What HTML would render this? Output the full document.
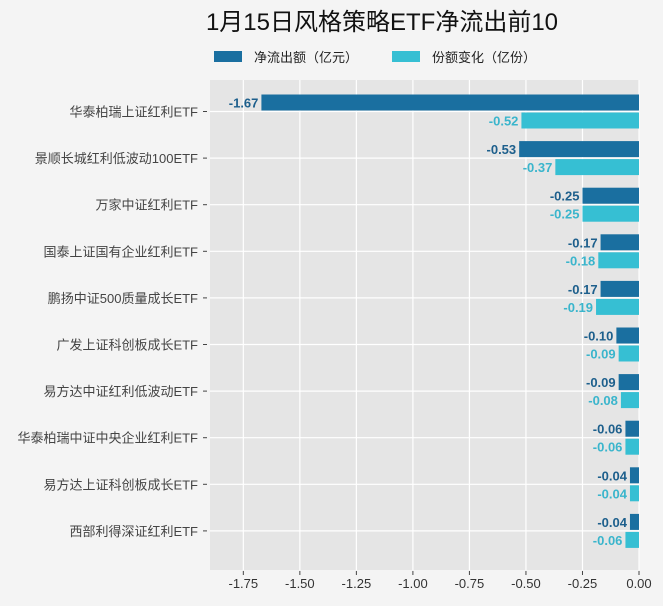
<!DOCTYPE html>
<html><head><meta charset="utf-8"><style>body{margin:0;background:#f4f4f4}svg{display:block}</style></head><body>
<svg width="663" height="606" xmlns="http://www.w3.org/2000/svg" font-family="Liberation Sans, Noto Sans CJK SC, sans-serif">
<rect width="663" height="606" fill="#f4f4f4"/>
<text x="382" y="30" font-size="24" text-anchor="middle" fill="#111">1月15日风格策略ETF净流出前10</text>
<rect x="214" y="51" width="28" height="11" fill="#1a6fa0"/>
<text x="254" y="62" font-size="13" fill="#222">净流出额（亿元）</text>
<rect x="392" y="51" width="28" height="11" fill="#36bfd3"/>
<text x="432" y="62" font-size="13" fill="#222">份额变化（亿份）</text>
<rect x="210" y="80" width="429" height="490" fill="#e5e5e5"/>
<g stroke="#fff" stroke-width="1.2" id="g"></g>
<g id="b"></g>
<script>
const U=226.1,Z=639,ns="http://www.w3.org/2000/svg";
const g=document.getElementById('g'),b=document.getElementById('b');
function el(p,t,a,txt){const e=document.createElementNS(ns,t);for(const k in a)e.setAttribute(k,a[k]);if(txt!==undefined)e.textContent=txt;p.appendChild(e);return e;}
const svg=document.querySelector('svg');
const ticks=[-1.75,-1.5,-1.25,-1,-0.75,-0.5,-0.25,0];
ticks.forEach(t=>{const x=Z+t*U;el(g,'line',{x1:x,x2:x,y1:80,y2:570});el(svg,'line',{x1:x,x2:x,y1:571,y2:575,stroke:'#444'});el(svg,'text',{x:x,y:588,'font-size':13,'text-anchor':'middle',fill:'#333'},t.toFixed(2));});
const d=[["华泰柏瑞上证红利ETF",-1.67,-0.52],["景顺长城红利低波动100ETF",-0.53,-0.37],["万家中证红利ETF",-0.25,-0.25],["国泰上证国有企业红利ETF",-0.17,-0.18],["鹏扬中证500质量成长ETF",-0.17,-0.19],["广发上证科创板成长ETF",-0.10,-0.09],["易方达中证红利低波动ETF",-0.09,-0.08],["华泰柏瑞中证中央企业红利ETF",-0.06,-0.06],["易方达上证科创板成长ETF",-0.04,-0.04],["西部利得深证红利ETF",-0.04,-0.06]];
d.forEach((r,i)=>{const c=111.5+46.6*i;
el(g,'line',{x1:210,x2:639,y1:c,y2:c});
el(svg,'line',{x1:203,x2:207,y1:c,y2:c,stroke:'#444'});
el(svg,'text',{x:198,y:c+5,'font-size':13,'text-anchor':'end',fill:'#444'},r[0]);
const x1=Z+r[1]*U,x2=Z+r[2]*U;
el(b,'rect',{x:x1,y:c-17,width:Z-x1,height:16,fill:'#1a6fa0'});
el(b,'rect',{x:x2,y:c+1,width:Z-x2,height:16,fill:'#36bfd3'});
el(b,'text',{x:x1-3,y:c-4,'font-size':13,'font-weight':'bold','text-anchor':'end',fill:'#1d5f8c'},r[1].toFixed(2));
el(b,'text',{x:x2-3,y:c+14,'font-size':13,'font-weight':'bold','text-anchor':'end',fill:'#3ab5cc'},r[2].toFixed(2));
});
</script>
</svg>
</body></html>
